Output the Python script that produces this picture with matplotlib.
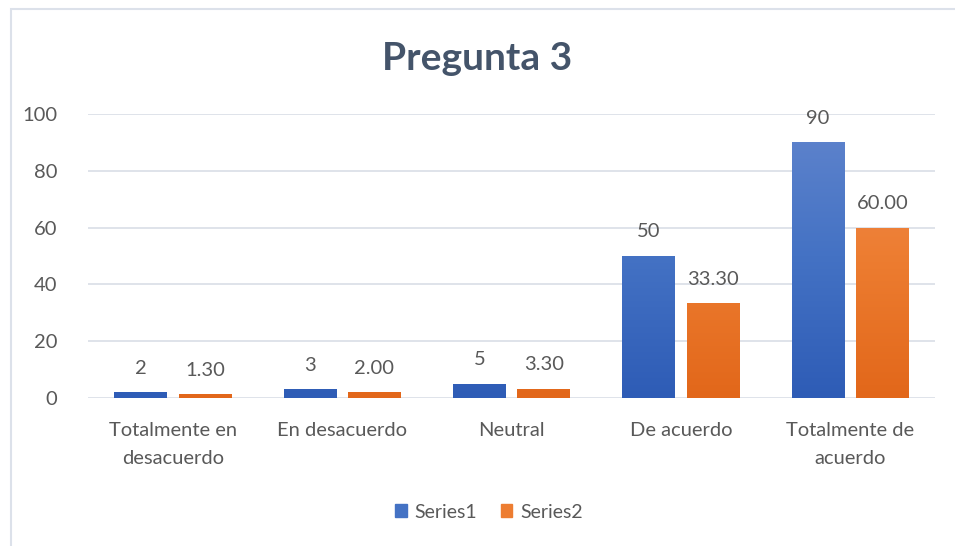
import numpy as np
import matplotlib.pyplot as plt
from matplotlib.colors import LinearSegmentedColormap
from matplotlib.patches import Rectangle, Patch

plt.rcParams['font.family'] = ['Lato', 'DejaVu Sans']

categorias = ['Totalmente en\ndesacuerdo', 'En desacuerdo', 'Neutral',
              'De acuerdo', 'Totalmente de\nacuerdo']
series1 = [2, 3, 5, 50, 90]
series2 = [1.30, 2.00, 3.30, 33.30, 60.00]
nombres = ['Series1', 'Series2']
titulo = 'Pregunta 3'

azul = LinearSegmentedColormap.from_list('azul', ['#2E5CB6', '#4472C4', '#6185CD'])
naranja = LinearSegmentedColormap.from_list('naranja', ['#E2671A', '#ED7D31', '#F08C55'])

fig = plt.figure(figsize=(9.55, 5.46), dpi=100)
# marco del grafico
fig.patches.append(Rectangle((11 / 955, -0.1), 1.2, 1 - 9 / 546 + 0.1, transform=fig.transFigure,
                             fill=False, edgecolor='#DCE1EA', linewidth=1.5))

ax = fig.add_axes([88 / 955, 148 / 546, (935 - 88) / 955, (432 - 148) / 546])
x = np.arange(len(categorias))
ancho = 0.31
desp = 0.19

b1 = ax.bar(x - desp, series1, ancho, color='#4472C4', zorder=2)
b2 = ax.bar(x + desp, series2, ancho, color='#ED7D31', zorder=2)

# degradado dentro de cada barra
grad = np.linspace(0, 1, 256).reshape(-1, 1)
for barras, cmap in [(b1, azul), (b2, naranja)]:
    for b in barras:
        bx = b.get_x()
        w = b.get_width()
        im = ax.imshow(grad, cmap=cmap, origin='lower', aspect='auto',
                       extent=[bx, bx + w, 0, 100], zorder=3)
        im.set_clip_path(b)
        b.set_facecolor('none')

for b, v in zip(b1, series1):
    ax.text(b.get_x() + b.get_width() / 2, v + 5.5, f'{v}', ha='center', va='bottom',
            fontsize=14.5, color='#595959')
for b, v in zip(b2, series2):
    ax.text(b.get_x() + b.get_width() / 2, v + 5.5, f'{v:.2f}', ha='center', va='bottom',
            fontsize=14.5, color='#595959')

ax.set_xlim(-0.5, 4.5)
ax.set_ylim(0, 100)
ax.set_yticks(range(0, 101, 20))
ax.set_xticks(x)
ax.set_xticklabels(categorias, fontsize=14.5, color='#595959', linespacing=1.8)
ax.tick_params(axis='y', labelsize=14.5, labelcolor='#595959', length=0, pad=22)
ax.tick_params(axis='x', length=0, pad=17)
ax.grid(axis='y', color='#DFE3EA', linewidth=1.4, zorder=0)
ax.set_axisbelow(True)
for s in ax.spines.values():
    s.set_visible(False)

fig.text(0.5, 1 - 58 / 546, titulo, ha='center', va='center', fontsize=28,
         fontweight='bold', color='#44546A')

manijas = [Patch(color='#4472C4'), Patch(color='#ED7D31')]
fig.legend(manijas, nombres, loc='center', bbox_to_anchor=(0.512, 1 - 512 / 546), ncol=2,
           frameon=False, fontsize=14, labelcolor='#595959', handlelength=0.6,
           handleheight=0.6, handletextpad=0.4, columnspacing=1.2)

fig.savefig('out.png', dpi=100, facecolor='white')
